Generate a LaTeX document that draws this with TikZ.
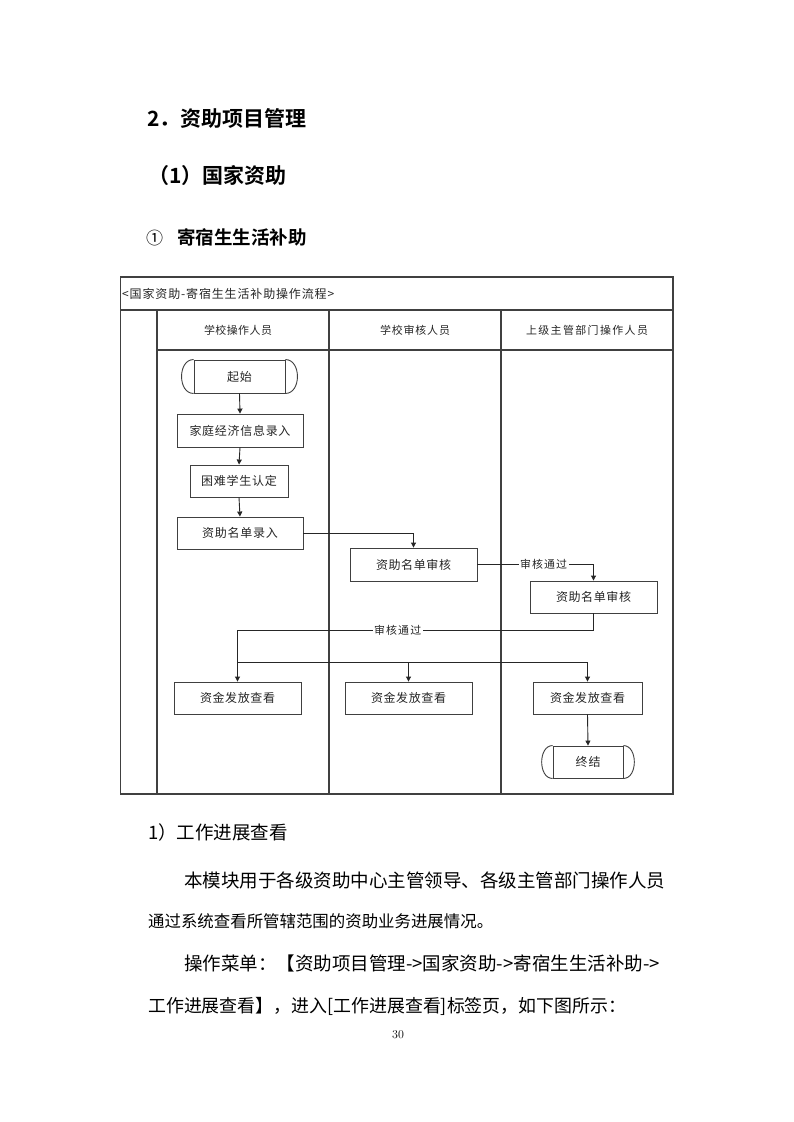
\documentclass[tikz,border=0pt]{standalone}
\usepackage{fontspec}
\usepackage{graphicx}
\usetikzlibrary{arrows.meta}
\newfontfamily\cjk{Noto Sans CJK SC}
\newfontfamily\cjkb{Noto Sans CJK SC Bold}
\XeTeXlinebreaklocale "zh"
\XeTeXlinebreakskip=0pt plus 2pt\relax
\newcommand\spread[2]{\makebox[#1]{\spreadloop#2\relax}}
\def\spreadloop#1#2{#1\ifx\relax#2\else\hfill\expandafter\spreadloop\expandafter#2\fi}
\tikzset{
  frame/.style={draw=black!75, line width=1.2pt},
  conn/.style={draw=black!85, line width=0.9pt},
  arr/.style={conn, -{Triangle[length=5pt,width=5pt]}},
  box/.style={draw=black!75, line width=0.9pt, minimum height=33pt, inner sep=0pt, text=black!85,
    font=\cjk\fontsize{12}{14}\selectfont},
  term/.style={box},
  lbl/.style={fill=white, inner sep=1.5pt, text=black!85, font=\cjk\fontsize{10.95}{12}\selectfont},
  hdr/.style={inner sep=0pt, text=black!85, font=\cjk\fontsize{10.95}{13}\selectfont},
  head/.style={inner sep=0pt, anchor=base west},
  body/.style={inner sep=0pt, anchor=base west, font=\cjk\fontsize{18.5}{20}\selectfont}
}
\begin{document}
\begin{tikzpicture}[x=1pt,y=-1pt]
\useasboundingbox[fill=white] (0,0) rectangle (793,1122);
% headings
\node[head, font=\cjkb\fontsize{21}{24}\selectfont] (h1) at (147,126) {2．资助项目管理};
\node[head, font=\cjkb\fontsize{21}{24}\selectfont] (h2) at (148,183) {（1）国家资助};
\node[head, font=\cjk\fontsize{18.5}{20}\selectfont] (h3a) at (146,244) {\scalebox{0.92}{①}};
\node[head, font=\cjkb\fontsize{18.5}{20}\selectfont] (h3) at (177,244) {寄宿生生活补助};
% frame
\draw[frame] (120.5,277) rectangle (673,794);
\draw[frame] (120.5,310) -- (673,310);
\draw[frame] (157,310) -- (157,794);
\draw[frame] (329,310) -- (329,794);
\draw[frame] (501,310) -- (501,794);
\draw[frame] (157,350) -- (673,350);
\node[inner sep=0pt, anchor=west, text=black!85, font=\cjk\fontsize{12}{13}\selectfont] (title) at (122,294) {\spread{212pt}{<国家资助-寄宿生生活补助操作流程>}};
\node[hdr] (lane1) at (238,330) {\spread{68pt}{学校操作人员}};
\node[hdr] (lane2) at (415,330) {\spread{70pt}{学校审核人员}};
\node[hdr] (lane3) at (587,330) {\spread{122pt}{上级主管部门操作人员}};
% nodes
\node[term, minimum width=91pt] (start) at (239.5,376.5) {\spread{25pt}{起始}};
\draw[box] (start.north west) .. controls +(-16,0) and +(-16,0) .. (start.south west);
\draw[box] (start.north east) .. controls +(16,0) and +(16,0) .. (start.south east);
\node[box, minimum width=126pt] (fam) at (240,430.5) {\spread{101pt}{家庭经济信息录入}};
\node[box, minimum width=98pt, minimum height=32pt] (kn) at (239,481) {\spread{76pt}{困难学生认定}};
\node[box, minimum width=126pt, minimum height=32pt] (lr) at (240,533) {\spread{76pt}{资助名单录入}};
\node[box, minimum width=127pt] (sh1) at (413.5,564.5) {\spread{75pt}{资助名单审核}};
\node[box, minimum width=127pt, minimum height=32pt] (sh2) at (593.5,597) {\spread{75pt}{资助名单审核}};
\node[box, minimum width=127pt, minimum height=32pt] (zj1) at (237.5,698) {\spread{75pt}{资金发放查看}};
\node[box, minimum width=127pt, minimum height=32pt] (zj2) at (408.5,698) {\spread{75pt}{资金发放查看}};
\node[box, minimum width=109pt, minimum height=32pt] (zj3) at (587.5,698) {\spread{75pt}{资金发放查看}};
\node[term, minimum width=70pt, minimum height=32pt] (end) at (588,762) {\spread{25pt}{终结}};
\draw[box] (end.north west) .. controls +(-14.5,0) and +(-14.5,0) .. (end.south west);
\draw[box] (end.north east) .. controls +(14.5,0) and +(14.5,0) .. (end.south east);
% connectors
\draw[arr] (start.south) -- (fam.north);
\draw[arr] (fam.south) -- (kn.north);
\draw[arr] (kn.south) -- (lr.north);
\draw[arr] (lr.east) -| (sh1.north);
\coordinate (c0) at (sh2.north |- sh1.east);
\draw[arr] (sh1.east) -- node[lbl, pos=0.57] {\spread{47pt}{审核通过}} (c0) -- (sh2.north);
\coordinate (c1) at (593.5,630);
\coordinate (c2) at (237.5,630);
\draw[arr] (sh2.south) -- (c1) -- node[lbl, pos=0.55] {\spread{47pt}{审核通过}} (c2) -- (zj1.north);
\coordinate (b1) at (237.5,662);
\coordinate (b2) at (408.5,662);
\coordinate (b3) at (587.5,662);
\draw[conn] (b1) -- (b3);
\draw[arr] (b2) -- (zj2.north);
\draw[arr] (b3) -- (zj3.north);
\draw[arr] (zj3.south) -- (end.north);
% body text
\node[body] (t1) at (148,839) {1）工作进展查看};
\node[body] (t2) at (184,887) {\makebox[485pt][s]{本模块用于各级资助中心主管领导、各级主管部门操作人员}};
\node[body] (t3) at (148,927) {\resizebox{345pt}{!}{通过系统查看所管辖范围的资助业务进展情况。}};
\node[body] (t4) at (184,970) {\makebox[492pt][s]{操作菜单：【资助项目管理->国家资助->寄宿生生活补助->}};
\node[body] (t5) at (148,1012) {\resizebox{478pt}{!}{工作进展查看】，进入[工作进展查看]标签页，如下图所示：}};
\node[inner sep=0pt, font=\fontsize{12}{14}\selectfont] (pg) at (398,1035) {30};
\end{tikzpicture}
\end{document}
